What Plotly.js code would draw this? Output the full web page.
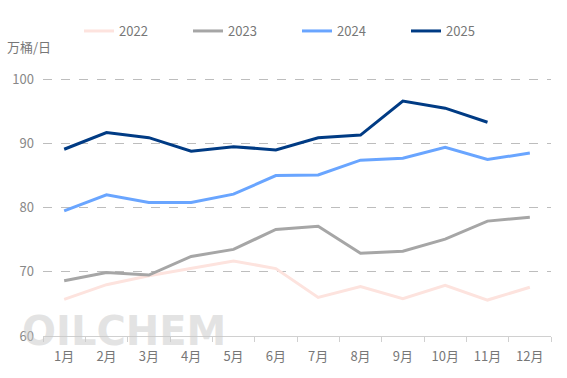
<!DOCTYPE html>
<html>
<head>
<meta charset="utf-8">
<script src="https://cdn.plot.ly/plotly-3.0.1.min.js"></script>
<style>html,body{margin:0;padding:0;background:#fff;}#chart{width:567px;height:378px;}</style>
</head>
<body>
<div id="chart"></div>
<script>
const months = ["1月","2月","3月","4月","5月","6月","7月","8月","9月","10月","11月","12月"];
const v2022 = [65.7, 68.0, 69.4, 70.6, 71.7, 70.5, 66.0, 67.7, 65.8, 67.9, 65.6, 67.6];
const v2023 = [68.6, 69.9, 69.5, 72.4, 73.5, 76.6, 77.1, 72.9, 73.2, 75.1, 77.9, 78.5];
const v2024 = [79.5, 82.0, 80.8, 80.8, 82.1, 85.0, 85.1, 87.4, 87.7, 89.4, 87.5, 88.5];
const v2025 = [89.1, 91.7, 90.9, 88.8, 89.5, 89.0, 90.9, 91.3, 96.6, 95.5, 93.3];
const seriesNames = ["2022","2023","2024","2025"];
const colors = ["#fde3de","#a6a6a6","#69a5ff","#003b84"];
const values = [v2022, v2023, v2024, v2025];

const traces = values.map((v, i) => ({
  type: "scatter", mode: "lines", name: seriesNames[i],
  x: months.slice(0, v.length), y: v,
  line: {color: colors[i], width: 3}
}));

const layout = {
  width: 567, height: 378,
  margin: {l: 43, r: 16, t: 78, b: 42},
  paper_bgcolor: "#fff", plot_bgcolor: "#fff",
  font: {family: "Noto Sans CJK SC, Open Sans, sans-serif", color: "#777", size: 13},
  showlegend: true,
  legend: {orientation: "h", x: 0.5, xanchor: "center", y: 31, yanchor: "middle",
    entrywidth: 64, entrywidthmode: "pixels", itemwidth: 30, tracegroupgap: 0,
    font: {size: 13, color: "#777"}, bgcolor: "rgba(0,0,0,0)"},
  xaxis: {type: "category", range: [-0.5, 11.5], showgrid: false, showline: true, linecolor: "#d0d0d0", linewidth: 1,
    ticks: "outside", tickson: "boundaries", ticklen: 5, tickcolor: "#d0d0d0",
    tickfont: {size: 13, color: "#777"}, ticklabelstandoff: 8, zeroline: false, fixedrange: true},
  yaxis: {range: [60, 100.2], tickvals: [60, 70, 80, 90, 100], showgrid: true, gridcolor: "#bdbdbd", griddash: "dash", gridwidth: 1,
    zeroline: false, showline: false, ticks: "", tickfont: {size: 13, color: "#888"}, ticklabelstandoff: 8},
  annotations: [
    {text: "万桶/日", xref: "paper", yref: "paper", x: -0.075, y: 1.0, xanchor: "left", yanchor: "bottom", yshift: 20,
     showarrow: false, font: {size: 13, color: "#777"}},
    {text: "<b>OILCHEM</b>", xref: "paper", yref: "paper", x: -0.045, y: 0.02, xanchor: "left", yanchor: "middle",
     showarrow: false, font: {size: 40, color: "rgba(200,200,200,0.5)", family: "DejaVu Sans, sans-serif"}}
  ]
};
// legend y in paper coordinates (container position ~31px from top)
layout.legend.y = 1 + (78 - 31) / (378 - 78 - 42);
Plotly.newPlot("chart", traces, layout, {displayModeBar: false, staticPlot: true});
</script>
</body>
</html>
